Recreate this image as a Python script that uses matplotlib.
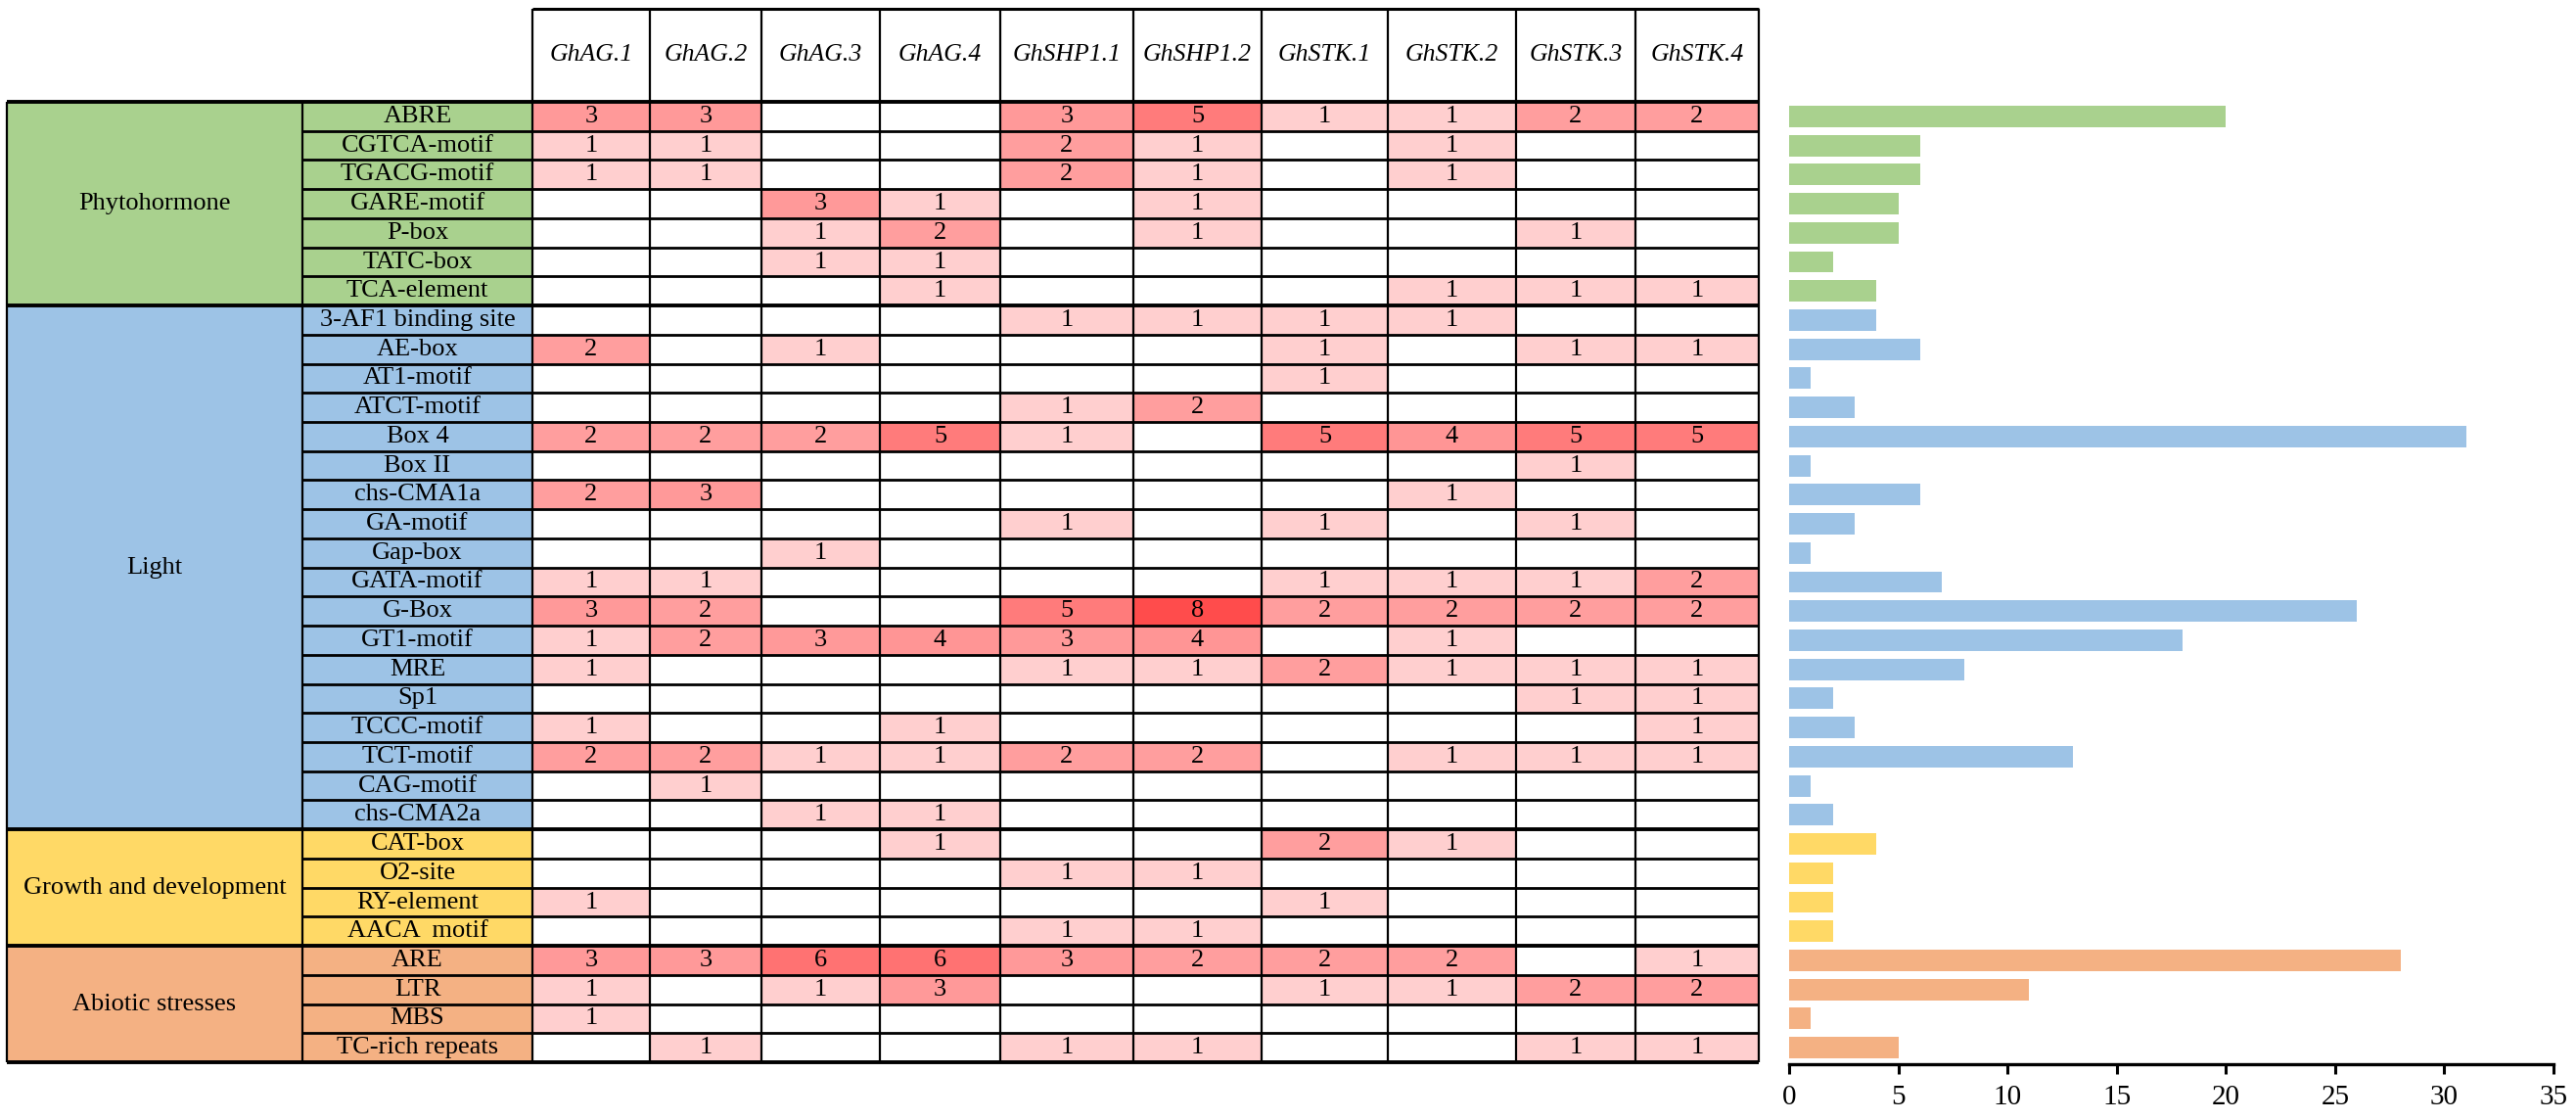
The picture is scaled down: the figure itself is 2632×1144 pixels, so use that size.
import numpy as np
import matplotlib
matplotlib.use("Agg")
import matplotlib.pyplot as plt
from matplotlib.patches import Rectangle

plt.rcParams["font.family"] = ["Liberation Serif", "DejaVu Serif"]

# ---------------------------------------------------------------------------
# data
# ---------------------------------------------------------------------------
genes = ["GhAG.1", "GhAG.2", "GhAG.3", "GhAG.4", "GhSHP1.1", "GhSHP1.2",
         "GhSTK.1", "GhSTK.2", "GhSTK.3", "GhSTK.4"]

groups = ["Phytohormone", "Light", "Growth and development", "Abiotic stresses"]
group_sizes = [7, 18, 4, 4]

motifs = ["ABRE", "CGTCA-motif", "TGACG-motif", "GARE-motif", "P-box", "TATC-box",
          "TCA-element",
          "3-AF1 binding site", "AE-box", "AT1-motif", "ATCT-motif", "Box 4", "Box II",
          "chs-CMA1a", "GA-motif", "Gap-box", "GATA-motif", "G-Box", "GT1-motif", "MRE",
          "Sp1", "TCCC-motif", "TCT-motif", "CAG-motif", "chs-CMA2a",
          "CAT-box", "O2-site", "RY-element", "AACA  motif",
          "ARE", "LTR", "MBS", "TC-rich repeats"]

counts = [
    [3, 3, 0, 0, 3, 5, 1, 1, 2, 2],   # ABRE
    [1, 1, 0, 0, 2, 1, 0, 1, 0, 0],   # CGTCA-motif
    [1, 1, 0, 0, 2, 1, 0, 1, 0, 0],   # TGACG-motif
    [0, 0, 3, 1, 0, 1, 0, 0, 0, 0],   # GARE-motif
    [0, 0, 1, 2, 0, 1, 0, 0, 1, 0],   # P-box
    [0, 0, 1, 1, 0, 0, 0, 0, 0, 0],   # TATC-box
    [0, 0, 0, 1, 0, 0, 0, 1, 1, 1],   # TCA-element
    [0, 0, 0, 0, 1, 1, 1, 1, 0, 0],   # 3-AF1 binding site
    [2, 0, 1, 0, 0, 0, 1, 0, 1, 1],   # AE-box
    [0, 0, 0, 0, 0, 0, 1, 0, 0, 0],   # AT1-motif
    [0, 0, 0, 0, 1, 2, 0, 0, 0, 0],   # ATCT-motif
    [2, 2, 2, 5, 1, 0, 5, 4, 5, 5],   # Box 4
    [0, 0, 0, 0, 0, 0, 0, 0, 1, 0],   # Box II
    [2, 3, 0, 0, 0, 0, 0, 1, 0, 0],   # chs-CMA1a
    [0, 0, 0, 0, 1, 0, 1, 0, 1, 0],   # GA-motif
    [0, 0, 1, 0, 0, 0, 0, 0, 0, 0],   # Gap-box
    [1, 1, 0, 0, 0, 0, 1, 1, 1, 2],   # GATA-motif
    [3, 2, 0, 0, 5, 8, 2, 2, 2, 2],   # G-Box
    [1, 2, 3, 4, 3, 4, 0, 1, 0, 0],   # GT1-motif
    [1, 0, 0, 0, 1, 1, 2, 1, 1, 1],   # MRE
    [0, 0, 0, 0, 0, 0, 0, 0, 1, 1],   # Sp1
    [1, 0, 0, 1, 0, 0, 0, 0, 0, 1],   # TCCC-motif
    [2, 2, 1, 1, 2, 2, 0, 1, 1, 1],   # TCT-motif
    [0, 1, 0, 0, 0, 0, 0, 0, 0, 0],   # CAG-motif
    [0, 0, 1, 1, 0, 0, 0, 0, 0, 0],   # chs-CMA2a
    [0, 0, 0, 1, 0, 0, 2, 1, 0, 0],   # CAT-box
    [0, 0, 0, 0, 1, 1, 0, 0, 0, 0],   # O2-site
    [1, 0, 0, 0, 0, 0, 1, 0, 0, 0],   # RY-element
    [0, 0, 0, 0, 1, 1, 0, 0, 0, 0],   # AACA  motif
    [3, 3, 6, 6, 3, 2, 2, 2, 0, 1],   # ARE
    [1, 0, 1, 3, 0, 0, 1, 1, 2, 2],   # LTR
    [1, 0, 0, 0, 0, 0, 0, 0, 0, 0],   # MBS
    [0, 1, 0, 0, 1, 1, 0, 0, 1, 1],   # TC-rich repeats
]

totals = [20, 6, 6, 5, 5, 2, 4,
          4, 6, 1, 3, 31, 1, 6, 3, 1, 7, 26, 18, 8, 2, 3, 13, 1, 2,
          4, 2, 2, 2,
          28, 11, 1, 5]

# ---------------------------------------------------------------------------
# styling
# ---------------------------------------------------------------------------
group_colors = ["#A9D18E", "#9DC3E6", "#FFD966", "#F4B183"]
cell_colors = {0: "white", 1: "#FFCFCF", 2: "#FF9E9E", 3: "#FF9999",
               4: "#FF9595", 5: "#FF7B7B", 6: "#FF7272", 8: "#FF4C4C"}

W, H = 2632, 1144
fig = plt.figure(figsize=(W / 100, H / 100), dpi=100)

n_rows = len(motifs)
top_px, body_px, bot_px = 9, 104, 1085
row_h = (bot_px - body_px) / n_rows
hdr = (body_px - top_px) / row_h

# column edges in pixels: group | motif | genes
x_left, x_motif, x_gene = 7, 309, 544
gene_edges = [544, 664, 778, 899, 1022, 1158, 1289, 1418, 1549, 1671, 1797]

ax = fig.add_axes([x_left / W, 1 - bot_px / H, (gene_edges[-1] - x_left) / W,
                   (bot_px - top_px) / H])
ax.set_xlim(x_left, gene_edges[-1])
ax.set_ylim(n_rows, -hdr)
ax.axis("off")

row_group = []
for g, n in enumerate(group_sizes):
    row_group += [g] * n
starts = np.cumsum([0] + group_sizes)

# group column
for g, name in enumerate(groups):
    y0, y1 = starts[g], starts[g + 1]
    ax.add_patch(Rectangle((x_left, y0), x_motif - x_left, y1 - y0,
                           facecolor=group_colors[g], edgecolor="none"))
    ax.text((x_left + x_motif) / 2, (y0 + y1) / 2, name, ha="center", va="center",
            fontsize=19)

# motif column + gene cells
for i, m in enumerate(motifs):
    ax.add_patch(Rectangle((x_motif, i), x_gene - x_motif, 1,
                           facecolor=group_colors[row_group[i]], edgecolor="none"))
    ax.text((x_motif + x_gene) / 2, i + 0.5, m, ha="center", va="center", fontsize=19)
    for j, v in enumerate(counts[i]):
        xa, xb = gene_edges[j], gene_edges[j + 1]
        ax.add_patch(Rectangle((xa, i), xb - xa, 1, facecolor=cell_colors[v],
                               edgecolor="none"))
        if v:
            ax.text((xa + xb) / 2, i + 0.5, str(v), ha="center", va="center",
                    fontsize=19)

# header
for j, gname in enumerate(genes):
    ax.text((gene_edges[j] + gene_edges[j + 1]) / 2, -hdr / 2, gname,
            ha="center", va="center", fontsize=18.5, style="italic")

# grid lines
for i in range(n_rows + 1):
    if i in starts:
        ax.hlines(i, x_left, gene_edges[-1], color="black", lw=2.8, clip_on=False)
    else:
        ax.hlines(i, x_motif, gene_edges[-1], color="black", lw=2.0, clip_on=False)
ax.hlines(-hdr, x_gene, gene_edges[-1], color="black", lw=2.2, clip_on=False)
for x in [x_left, x_motif]:
    ax.vlines(x, 0, n_rows, color="black", lw=1.6, clip_on=False)
for x in gene_edges:
    ax.vlines(x, -hdr, n_rows, color="black", lw=1.6, clip_on=False)

# ---------------------------------------------------------------------------
# bar chart of totals
# ---------------------------------------------------------------------------
bx0, bx1, by_bot = 1828, 2609, 1087
axb = fig.add_axes([bx0 / W, 1 - by_bot / H, (bx1 - bx0) / W, (by_bot - body_px) / H])
ypos = np.arange(n_rows) + 0.5
axb.barh(ypos, totals, height=0.74, color=[group_colors[g] for g in row_group])
axb.set_xlim(0, 35)
axb.set_ylim((by_bot - body_px) / row_h, 0)
axb.set_xticks(range(0, 36, 5))
axb.set_yticks([])
for s in ["left", "top", "right"]:
    axb.spines[s].set_visible(False)
axb.spines["bottom"].set_linewidth(2.4)
axb.tick_params(axis="x", direction="out", length=7, width=2.2, labelsize=21, pad=8)

fig.savefig("out.png", dpi=100)
